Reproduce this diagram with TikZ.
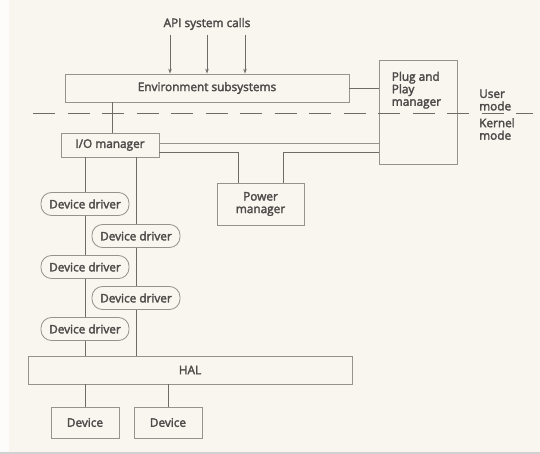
\documentclass[tikz,border=0pt]{standalone}
\usepackage{fontspec}
\setmainfont{Open Sans}[BoldFont={Open Sans}, BoldFeatures={FakeBold=2.5}]
\usetikzlibrary{arrows.meta}
\definecolor{paper}{RGB}{249,245,239}
\definecolor{ink}{RGB}{78,76,74}
\definecolor{rule}{RGB}{110,108,105}
\definecolor{boxline}{RGB}{150,147,143}
\newcommand{\diagfont}{\fontsize{11.8}{12.5}\selectfont\bfseries}
\tikzset{
  box/.style={draw=boxline, line width=0.8pt, minimum width=#1, inner sep=0pt, font=\diagfont, text=ink},
  drvbox/.style={draw=boxline, line width=0.8pt, fill=paper, rounded corners=10.5pt,
    minimum width=88pt, minimum height=23pt, inner sep=0pt, font=\diagfont, text=ink},
  conn/.style={draw=rule, line width=0.9pt},
  thin conn/.style={draw=boxline, line width=0.7pt},
  call/.style={conn, -{Stealth[length=5pt,width=3.5pt]}},
  modeline/.style={draw=rule, line width=0.9pt, dash pattern=on 22pt off 12.5pt},
  lbl/.style={text=ink, inner sep=0pt, font=\diagfont}
}
\begin{document}
\begin{tikzpicture}[x=1pt, y=-1pt]
  % page
  \fill[paper] (0,0) rectangle (540,454);
  \fill[white!70!paper] (0,0) rectangle (9,454);
  \fill[black!18] (0,451.5) rectangle (540,454);
  \useasboundingbox (0,0) rectangle (540,454);

  % user-mode components
  \node[box=284pt, minimum height=28pt] (env) at (207,88) {Environment subsystems};
  \node[box=78pt, minimum height=104pt,
        label={[lbl, anchor=north west, align=left, xshift=13pt, yshift=-12pt]north west:Plug and\\Play\\manager}]
        (pnp) at (418,112) {};

  % kernel-mode components
  \node[box=98pt, minimum height=24pt] (io) at (110,145) {I/O manager};
  \node[box=87pt, minimum height=42pt, align=center] (power) at (260.5,204) {Power\\manager};
  \node[drvbox] (dd1) at (85,204) {Device driver};
  \node[drvbox] (dd2) at (136,236) {Device driver};
  \node[drvbox] (dd3) at (85,267) {Device driver};
  \node[drvbox] (dd4) at (136,298) {Device driver};
  \node[drvbox] (dd5) at (85,329) {Device driver};
  \node[box=324pt, minimum height=28pt] (hal) at (190,370) {HAL};
  \node[box=68pt, minimum height=31pt] (dev1) at (85,422.5) {Device};
  \node[box=68pt, minimum height=31pt] (dev2) at (168,422.5) {Device};

  % API calls
  \node[lbl] (api) at (207,24) {API system calls};
  \coordinate (a1) at (170,35);
  \coordinate (a2) at (207,35);
  \coordinate (a3) at (245,35);
  \foreach \a in {a1,a2,a3} \draw[call] (\a) -- (\a |- env.north);

  % helper points for the routing
  \coordinate (c1) at (112,0);
  \coordinate (r1) at (0,143);
  \coordinate (p1) at (238,152);
  \coordinate (p2) at (283,152);

  % connectors
  \draw[conn] (env.south -| c1) -- (io.north -| c1);
  \draw[conn] (env.east) -- (env.east -| pnp.west);
  \draw[thin conn] (io.east |- r1) -- (pnp.west |- r1);
  \draw[conn] (io.east |- p1) -- (p1) -- (p1 |- power.north);
  \draw[conn] (pnp.west |- p2) -- (p2) -- (p2 |- power.north);

  % driver stacks
  \draw[conn] (io.south -| dd1) -- (dd1.north);
  \draw[conn] (dd1.south) -- (dd3.north);
  \draw[conn] (dd3.south) -- (dd5.north);
  \draw[conn] (dd5.south) -- (hal.north -| dd5);
  \draw[conn] (io.south -| dd2) -- (dd2.north);
  \draw[conn] (dd2.south) -- (dd4.north);
  \draw[conn] (dd4.south) -- (hal.north -| dd4);

  % HAL to devices
  \draw[conn] (hal.south -| dev1) -- (dev1.north);
  \draw[conn] (hal.south -| dev2) -- (dev2.north);

  % user/kernel boundary
  \coordinate (dl) at (33,113);
  \coordinate (dr) at (533,113);
  \draw[modeline] (dl) -- (dr);
  \node[lbl, anchor=west, align=left] (user) at (479,100) {User\\mode};
  \node[lbl, anchor=west, align=left] (kernel) at (479,129) {Kernel\\mode};
\end{tikzpicture}
\end{document}
